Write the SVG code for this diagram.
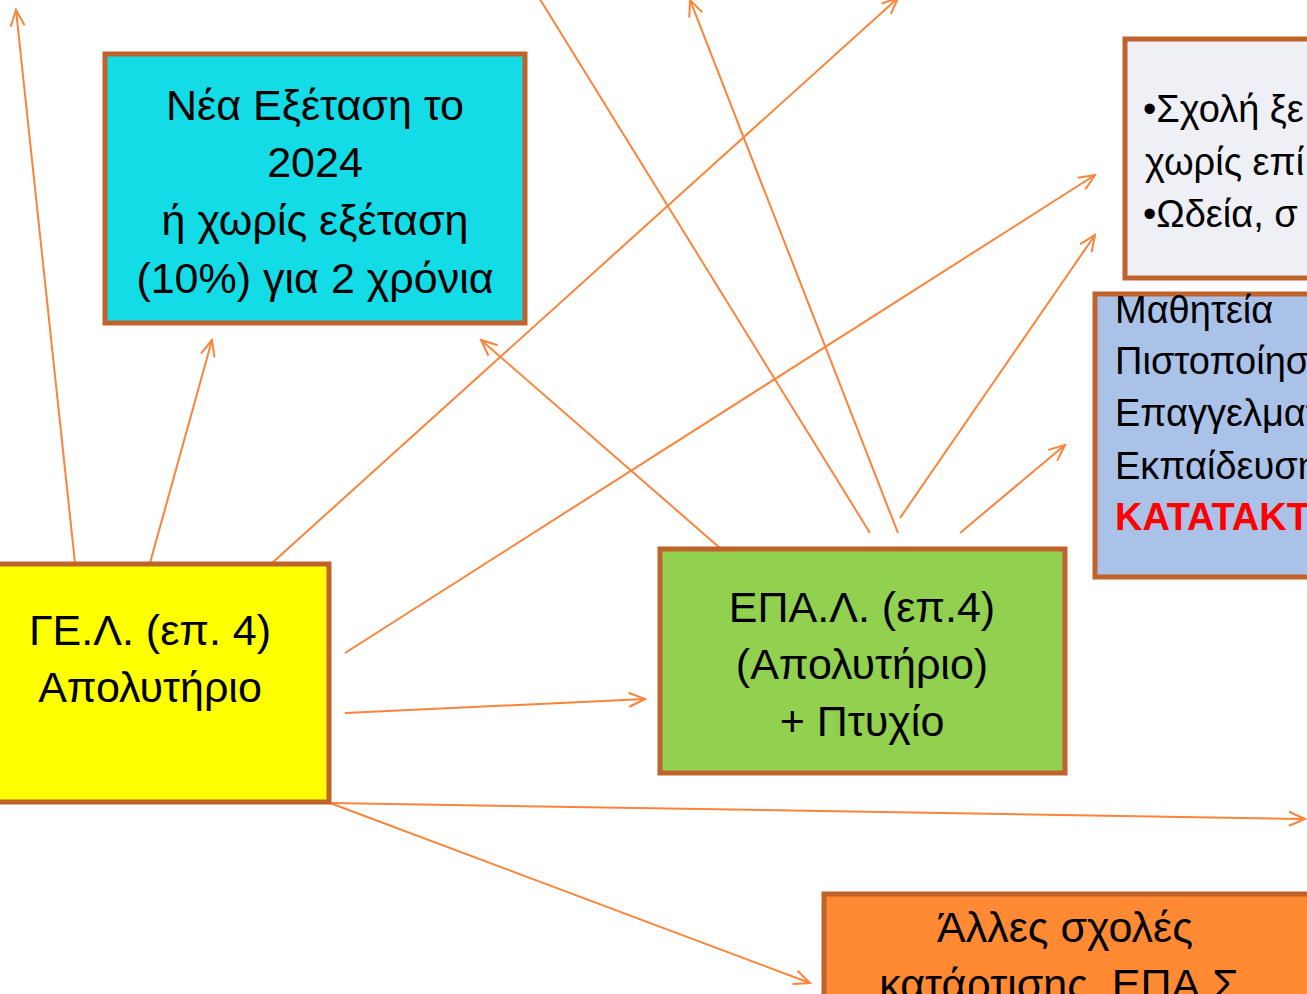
<svg xmlns="http://www.w3.org/2000/svg" width="1307" height="994" viewBox="0 0 1307 994">
<style>
.box{stroke:#C0622B;stroke-width:5}
.t{font-family:"Liberation Sans","Noto Sans",sans-serif;font-size:43px;fill:#000}
.s{font-family:"Liberation Sans","Noto Sans",sans-serif;font-size:38px;fill:#000}
.c{text-anchor:middle}
.con line{stroke:#F9843A;stroke-width:2;fill:none}
</style>
<defs>
<marker id="ah" markerUnits="userSpaceOnUse" markerWidth="20" markerHeight="20" viewBox="0 0 20 20" refX="18" refY="10" orient="auto">
<path d="M2,3 L18,10 L2,17" fill="none" stroke="#F9843A" stroke-width="2"/>
</marker>
</defs>
<rect width="1307" height="994" fill="#fff"/>
<g id="connectors" class="con">
<line x1="75" y1="563" x2="16" y2="10" marker-end="url(#ah)"/>
<line x1="150" y1="563" x2="212" y2="340" marker-end="url(#ah)"/>
<line x1="272" y1="563" x2="898" y2="-2" marker-end="url(#ah)"/>
<line x1="345" y1="653" x2="1095" y2="175" marker-end="url(#ah)"/>
<line x1="345" y1="713" x2="645" y2="699" marker-end="url(#ah)"/>
<line x1="330" y1="803" x2="1305" y2="819" marker-end="url(#ah)"/>
<line x1="330" y1="803" x2="810" y2="983" marker-end="url(#ah)"/>
<line x1="720" y1="548" x2="481" y2="340" marker-end="url(#ah)"/>
<line x1="870" y1="533" x2="533" y2="-12"/>
<line x1="898" y1="533" x2="690" y2="0" marker-end="url(#ah)"/>
<line x1="900" y1="518" x2="1095" y2="235" marker-end="url(#ah)"/>
<line x1="960" y1="533" x2="1065" y2="445" marker-end="url(#ah)"/>
</g>
<g id="nea">
<rect class="box" x="105" y="54" width="420" height="269" fill="#13DCE6"/>
<text class="t c" x="315" y="120">Νέα Εξέταση το</text>
<text class="t c" x="315" y="177">2024</text>
<text class="t c" x="315" y="235">ή χωρίς εξέταση</text>
<text class="t c" x="315" y="293">(10%) για 2 χρόνια</text>
</g>
<g id="gel">
<rect class="box" x="-5" y="564" width="334" height="238" fill="#FFFF00"/>
<text class="t c" x="150" y="645">ΓΕ.Λ. (επ. 4)</text>
<text class="t c" x="150" y="702">Απολυτήριο</text>
</g>
<g id="epal">
<rect class="box" x="660" y="549" width="405" height="224" fill="#92D050"/>
<text class="t c" x="862" y="622">ΕΠΑ.Λ. (επ.4)</text>
<text class="t c" x="862" y="679">(Απολυτήριο)</text>
<text class="t c" x="862" y="736">+ Πτυχίο</text>
</g>
<g id="sxoli">
<rect class="box" x="1125" y="39" width="200" height="239" fill="#EEF0F6"/>
<text class="s" x="1143" y="122">•Σχολή ξε</text>
<text class="s" x="1145" y="175">χωρίς επί</text>
<text class="s" x="1143" y="227">•Ωδεία, σ</text>
</g>
<g id="mathiteia">
<rect class="box" x="1095" y="294" width="230" height="283" fill="#ABC2E8"/>
<text class="s" x="1115" y="323">Μαθητεία</text>
<text class="s" x="1115" y="374">Πιστοποίησ</text>
<text class="s" x="1115" y="426">Επαγγελματ</text>
<text class="s" x="1115" y="479">Εκπαίδευση</text>
<text class="s" x="1115" y="530" font-weight="bold" style="fill:#FF0000">ΚΑΤΑΤΑΚΤΗ</text>
</g>
<g id="alles">
<rect class="box" x="824" y="894" width="500" height="120" fill="#FF8A33"/>
<text class="t c" x="1065" y="942">Άλλες σχολές</text>
<text class="t c" x="1065" y="999">κατάρτισης, ΕΠΑ.Σ.</text>
</g>
</svg>
